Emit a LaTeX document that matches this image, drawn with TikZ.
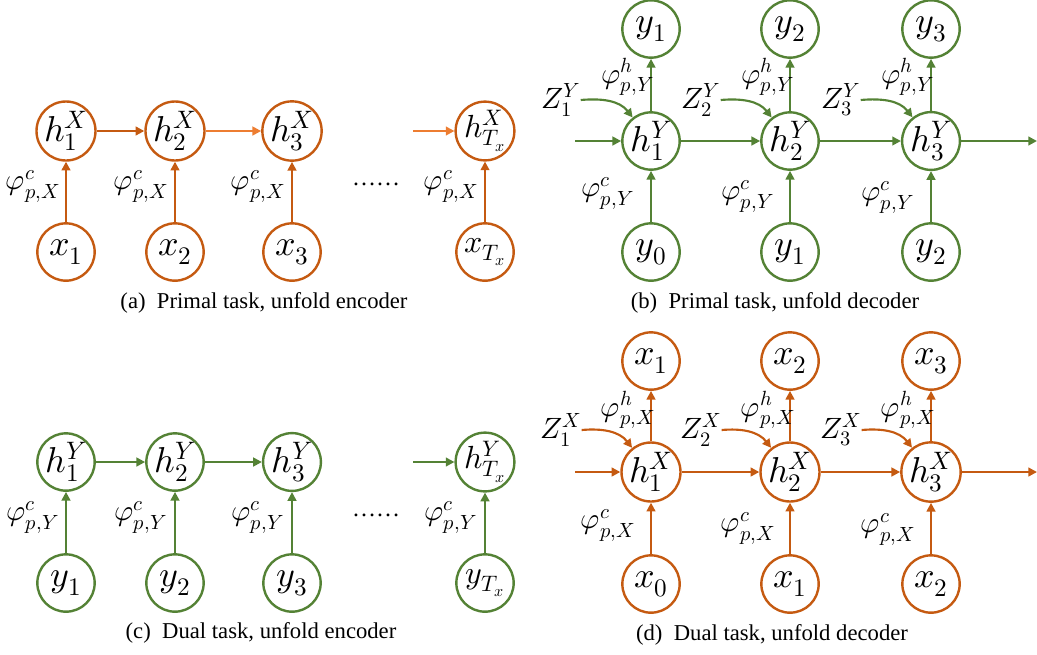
\documentclass[tikz,border=0pt]{standalone}
\usepackage{fontspec}
\usepackage{unicode-math}
\setmainfont{Liberation Serif}
\setmathfont{Latin Modern Math}
\usetikzlibrary{arrows.meta}
\definecolor{orgD}{HTML}{C55A11}
\definecolor{orgL}{HTML}{ED7D31}
\definecolor{grnD}{HTML}{548235}

\begin{document}
\begin{tikzpicture}[x=0.75pt,y=-0.75pt,
  unit/.style={circle, draw, line width=1.8pt, minimum size=43pt, inner sep=0pt,
    font=\fontsize{27}{29}\selectfont},
  ounit/.style={unit, draw=orgD},
  gunit/.style={unit, draw=grnD},
  lab/.style={inner sep=0pt, font=\fontsize{22}{24}\selectfont},
  arr/.style={line width=1.6pt, -{Triangle[length=6.5pt,width=6.5pt]}},
  oarr/.style={arr, draw=orgD},
  larr/.style={arr, draw=orgL},
  garr/.style={arr, draw=grnD},
  capt/.style={font=\fontsize{17}{19}\selectfont},
  dots/.style={font=\fontsize{18}{20}\selectfont}]
\useasboundingbox (0,0) rectangle (1037,654);

% ---------- (a) primal task, unfolded encoder ----------
\node[ounit] (ah1) at (66,131) {$h_1^X$};
\node[ounit] (ah2) at (175,131) {$h_2^X$};
\node[ounit] (ah3) at (292,131) {$h_3^X$};
\node[ounit] (ahT) at (485,131) {\fontsize{24}{26}\selectfont$h_{T_x}^X$};
\node[ounit] (ax1) at (66,252) {$x_1$};
\node[ounit] (ax2) at (175,252) {$x_2$};
\node[ounit] (ax3) at (292,252) {$x_3$};
\node[ounit] (axT) at (485,252) {\fontsize{24}{26}\selectfont$x_{T_x}$};
\coordinate (ain) at (413,131);
\draw[oarr] (ah1) -- (ah2);
\draw[larr] (ah2) -- (ah3);
\draw[larr] (ain) -- (ahT);
\foreach \i in {1,2,3,T} \draw[oarr] (ax\i) -- (ah\i);
\node[lab] (al1) at (33,186) {$\varphi_{p,X}^c$};
\node[lab] (al2) at (141,186) {$\varphi_{p,X}^c$};
\node[lab] (al3) at (258,186) {$\varphi_{p,X}^c$};
\node[lab] (alT) at (451,186) {$\varphi_{p,X}^c$};
\node[dots] (adots) at (376,184) {\dots\dots};
\node[capt] (acap) at (264,303) {(a)\enspace Primal task, unfold encoder};

% ---------- (c) dual task, unfolded encoder ----------
\node[gunit] (ch1) at (66,462) {$h_1^Y$};
\node[gunit] (ch2) at (175,462) {$h_2^Y$};
\node[gunit] (ch3) at (292,462) {$h_3^Y$};
\node[gunit] (chT) at (485,462) {\fontsize{24}{26}\selectfont$h_{T_x}^Y$};
\node[gunit] (cy1) at (66,583) {$y_1$};
\node[gunit] (cy2) at (175,583) {$y_2$};
\node[gunit] (cy3) at (292,583) {$y_3$};
\node[gunit] (cyT) at (485,583) {\fontsize{24}{26}\selectfont$y_{T_x}$};
\coordinate (cin) at (413,462);
\draw[garr] (ch1) -- (ch2);
\draw[garr] (ch2) -- (ch3);
\draw[garr] (cin) -- (chT);
\foreach \i in {1,2,3,T} \draw[garr] (cy\i) -- (ch\i);
\node[lab] (cl1) at (33,517) {$\varphi_{p,Y}^c$};
\node[lab] (cl2) at (141,517) {$\varphi_{p,Y}^c$};
\node[lab] (cl3) at (258,517) {$\varphi_{p,Y}^c$};
\node[lab] (clT) at (451,517) {$\varphi_{p,Y}^c$};
\node[dots] (cdots) at (376,515) {\dots\dots};
\node[capt] (ccap) at (261,633) {(c)\enspace Dual task, unfold encoder};

% ---------- (b) primal task, unfolded decoder ----------
\foreach \i/\x in {1/651,2/790,3/931}{
  \node[gunit] (bh\i) at (\x,141) {$h_\i^Y$};
  \node[gunit] (bt\i) at (\x,29) {$y_\i$};
}
\node[gunit] (bb1) at (651,252) {$y_0$};
\node[gunit] (bb2) at (790,252) {$y_1$};
\node[gunit] (bb3) at (931,252) {$y_2$};
\coordinate (bin) at (575,141);
\coordinate (bout) at (1037,141);
\draw[garr] (bin) -- (bh1);
\draw[garr] (bh1) -- (bh2);
\draw[garr] (bh2) -- (bh3);
\draw[garr] (bh3) -- (bout);
\foreach \i/\x in {1/561,2/701,3/841}{
  \draw[garr] (bb\i) -- (bh\i);
  \draw[garr] (bh\i) -- (bt\i);
  \node[lab] (bz\i) at (\x,100) {$Z_\i^Y$};
  \draw[garr] (bz\i.east) to[out=5,in=128] (bh\i.128);
}
\node[lab] (bph1) at (628,77) {$\varphi_{p,Y}^h$};
\node[lab] (bph2) at (768,77) {$\varphi_{p,Y}^h$};
\node[lab] (bph3) at (908,77) {$\varphi_{p,Y}^h$};
\node[lab] (bpc1) at (608,193) {$\varphi_{p,Y}^c$};
\node[lab] (bpc2) at (748,196) {$\varphi_{p,Y}^c$};
\node[lab] (bpc3) at (888,197) {$\varphi_{p,Y}^c$};
\node[capt] (bcap) at (775,303) {(b)\enspace Primal task, unfold decoder};

% ---------- (d) dual task, unfolded decoder ----------
\foreach \i/\x in {1/651,2/790,3/931}{
  \node[ounit] (dh\i) at (\x,472) {$h_\i^X$};
  \node[ounit] (dt\i) at (\x,361) {$x_\i$};
}
\node[ounit] (db1) at (651,584) {$x_0$};
\node[ounit] (db2) at (790,584) {$x_1$};
\node[ounit] (db3) at (931,584) {$x_2$};
\coordinate (din) at (575,472);
\coordinate (dout) at (1037,472);
\draw[oarr] (din) -- (dh1);
\draw[oarr] (dh1) -- (dh2);
\draw[oarr] (dh2) -- (dh3);
\draw[oarr] (dh3) -- (dout);
\foreach \i/\x in {1/561,2/701,3/841}{
  \draw[oarr] (db\i) -- (dh\i);
  \draw[oarr] (dh\i) -- (dt\i);
  \node[lab] (dz\i) at (\x,430) {$Z_\i^X$};
  \draw[oarr] (dz\i.east) to[out=5,in=128] (dh\i.128);
}
\node[lab] (dph1) at (628,410) {$\varphi_{p,X}^h$};
\node[lab] (dph2) at (768,410) {$\varphi_{p,X}^h$};
\node[lab] (dph3) at (908,410) {$\varphi_{p,X}^h$};
\node[lab] (dpc1) at (608,525) {$\varphi_{p,X}^c$};
\node[lab] (dpc2) at (748,528) {$\varphi_{p,X}^c$};
\node[lab] (dpc3) at (888,529) {$\varphi_{p,X}^c$};
\node[capt] (dcap) at (772,635) {(d)\enspace Dual task, unfold decoder};
\end{tikzpicture}
\end{document}
